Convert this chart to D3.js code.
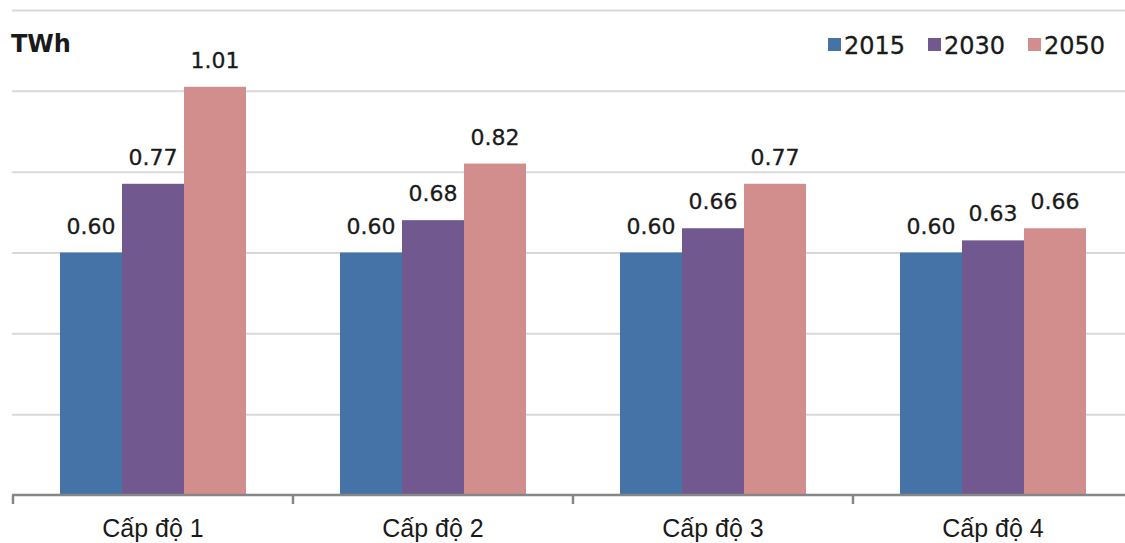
<!DOCTYPE html>
<html><head><meta charset="utf-8">
<script src="https://cdnjs.cloudflare.com/ajax/libs/d3/7.8.5/d3.min.js"></script>
<style>body{margin:0;background:#fff}svg{display:block}</style>
</head><body>
<svg id="c" width="1125" height="543"></svg>
<script>
const categories = ["Cấp độ 1", "Cấp độ 2", "Cấp độ 3", "Cấp độ 4"];
const seriesNames = ["2015", "2030", "2050"];
const v2015 = [0.60, 0.60, 0.60, 0.60];
const v2030 = [0.77, 0.68, 0.66, 0.63];
const v2050 = [1.01, 0.82, 0.77, 0.66];
const colors = ["#4572A7", "#71588F", "#D28E8C"];
const yTicks = [0, 0.2, 0.4, 0.6, 0.8, 1.0, 1.2];
const unitLabel = "TWh";

const series = [v2015, v2030, v2050];
const svg = d3.select("#c");
const x0 = d3.scaleBand().domain(categories).range([13, 1133]).paddingInner(0).paddingOuter(0);
const x1 = d3.scaleBand().domain(seriesNames).range([47, 233]).padding(0);
const y = d3.scaleLinear().domain([0, 1.2]).range([495, 10]);

// gridlines
const grid = svg.append("g").attr("transform","translate(12,0)")
  .call(d3.axisLeft(y).tickValues(yTicks.slice(1)).tickSize(-1125).tickFormat(""));
grid.select(".domain").remove();
grid.selectAll("line").attr("stroke","#d9d9d9").attr("stroke-width",2);

// bars
const g = svg.append("g");
categories.forEach((c, ci) => {
  seriesNames.forEach((s, si) => {
    const val = series[si][ci];
    g.append("rect")
      .attr("x", x0(c) + x1(s))
      .attr("y", y(val))
      .attr("width", x1.bandwidth())
      .attr("height", y(0) - y(val))
      .attr("fill", colors[si]);
    g.append("text")
      .attr("x", x0(c) + x1(s) + x1.bandwidth()/2)
      .attr("y", y(val) - 19)
      .attr("text-anchor","middle")
      .attr("font-family","DejaVu Sans, Verdana, sans-serif")
      .attr("font-size", 22)
      .attr("fill","#1a1a1a")
      .attr("stroke","#1a1a1a").attr("stroke-width",0.3)
      .text(val.toFixed(2));
  });
});

// category axis
svg.append("line").attr("x1",12).attr("x2",1125).attr("y1",y(0)).attr("y2",y(0))
  .attr("stroke","#868686").attr("stroke-width",2.5);
categories.forEach(c => {
  const b = x0(c);
  svg.append("line").attr("x1",b).attr("x2",b).attr("y1",y(0)).attr("y2",y(0)+9)
    .attr("stroke","#868686").attr("stroke-width",2.5);
  svg.append("text").attr("x", b + x0.bandwidth()/2).attr("y", 537)
    .attr("text-anchor","middle")
    .attr("font-family","Liberation Sans, Arial, sans-serif")
    .attr("font-size", 25).attr("fill","#1a1a1a").text(c);
});

// unit
svg.append("text").attr("x",11).attr("y",52)
  .attr("font-family","DejaVu Sans, Verdana, sans-serif")
  .attr("font-weight","bold").attr("font-size",24).attr("fill","#1a1a1a").text(unitLabel);

// legend
const legX = [828, 928, 1028];
seriesNames.forEach((s, i) => {
  svg.append("rect").attr("x", legX[i]).attr("y", 38).attr("width", 13).attr("height", 13).attr("fill", colors[i]);
  svg.append("text").attr("x", legX[i] + 16).attr("y", 54)
    .attr("font-family","DejaVu Sans, Verdana, sans-serif")
    .attr("font-size", 24).attr("fill","#1a1a1a")
    .attr("stroke","#1a1a1a").attr("stroke-width",0.3).text(s);
});
</script>
</body></html>
